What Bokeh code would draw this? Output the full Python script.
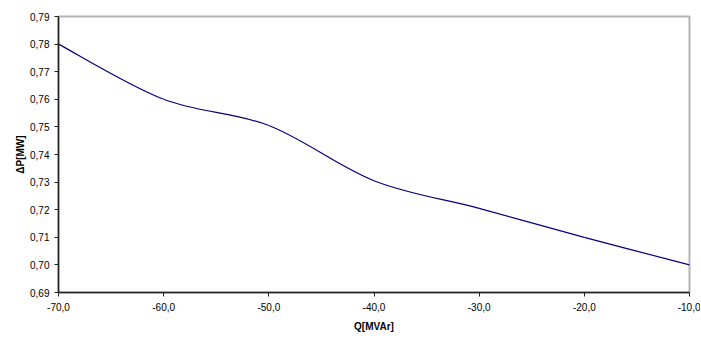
from bokeh.plotting import figure
from bokeh.models import Range1d, FixedTicker, CustomJSTickFormatter, ColumnDataSource
from bokeh.embed import file_html
from bokeh.resources import INLINE

# Data
q_values = [-70, -60, -50, -40, -30, -20, -10]
dp_values = [0.780, 0.760, 0.7505, 0.7305, 0.7205, 0.710, 0.700]

x_ticks = [-70, -60, -50, -40, -30, -20, -10]
y_ticks = [0.69, 0.70, 0.71, 0.72, 0.73, 0.74, 0.75, 0.76, 0.77, 0.78, 0.79]

x_title = "Q[MVAr]"
y_title = "ΔP[MW]"

FONT = "Liberation Sans"

p = figure(width=700, height=336, output_backend="svg", toolbar_location=None,
           x_range=Range1d(-70, -10), y_range=Range1d(0.69, 0.79),
           min_border_left=58, min_border_right=11, min_border_top=16, min_border_bottom=44)

p.xgrid.visible = False
p.ygrid.visible = False
p.outline_line_color = "#b4b4b4"
p.outline_line_width = 2
p.background_fill_color = "white"
p.border_fill_color = "white"

# Smoothed line (Catmull-Rom converted to cubic Bezier segments, like a spreadsheet "smoothed line")
n = len(q_values)
x0s, y0s, x1s, y1s, cx0s, cy0s, cx1s, cy1s = [], [], [], [], [], [], [], []
for i in range(n - 1):
    xa, ya = q_values[max(i - 1, 0)], dp_values[max(i - 1, 0)]
    xb, yb = q_values[i], dp_values[i]
    xc, yc = q_values[i + 1], dp_values[i + 1]
    xd, yd = q_values[min(i + 2, n - 1)], dp_values[min(i + 2, n - 1)]
    x0s.append(xb); y0s.append(yb)
    x1s.append(xc); y1s.append(yc)
    cx0s.append(xb + (xc - xa) / 6.0); cy0s.append(yb + (yc - ya) / 6.0)
    cx1s.append(xc - (xd - xb) / 6.0); cy1s.append(yc - (yd - yb) / 6.0)

src = ColumnDataSource(dict(x0=x0s, y0=y0s, x1=x1s, y1=y1s, cx0=cx0s, cy0=cy0s, cx1=cx1s, cy1=cy1s))
p.bezier(x0="x0", y0="y0", x1="x1", y1="y1", cx0="cx0", cy0="cy0", cx1="cx1", cy1="cy1",
         source=src, line_color="#000080", line_width=1.2)

for ax in (p.xaxis[0], p.yaxis[0]):
    ax.axis_line_color = "#202020"
    ax.axis_line_width = 1.5
    ax.major_tick_line_color = "#202020"
    ax.major_tick_out = 4
    ax.major_tick_in = 0
    ax.minor_tick_line_color = None
    ax.major_label_text_font = FONT
    ax.major_label_text_font_size = "10px"
    ax.major_label_text_color = "black"
    ax.axis_label_text_font = FONT
    ax.axis_label_text_font_size = "10px"
    ax.axis_label_text_font_style = "bold"
    ax.axis_label_text_color = "black"

p.xaxis.ticker = FixedTicker(ticks=x_ticks)
p.yaxis.ticker = FixedTicker(ticks=y_ticks)
p.xaxis.formatter = CustomJSTickFormatter(code="return tick.toFixed(1).replace('.', ',');")
p.yaxis.formatter = CustomJSTickFormatter(code="return tick.toFixed(2).replace('.', ',');")
p.xaxis.axis_label = x_title
p.yaxis.axis_label = y_title
p.xaxis.major_label_standoff = 6
p.yaxis.major_label_standoff = 5
p.xaxis.axis_label_standoff = 7
p.yaxis.axis_label_standoff = 1

open("out.html", "w").write(file_html(p, INLINE))
